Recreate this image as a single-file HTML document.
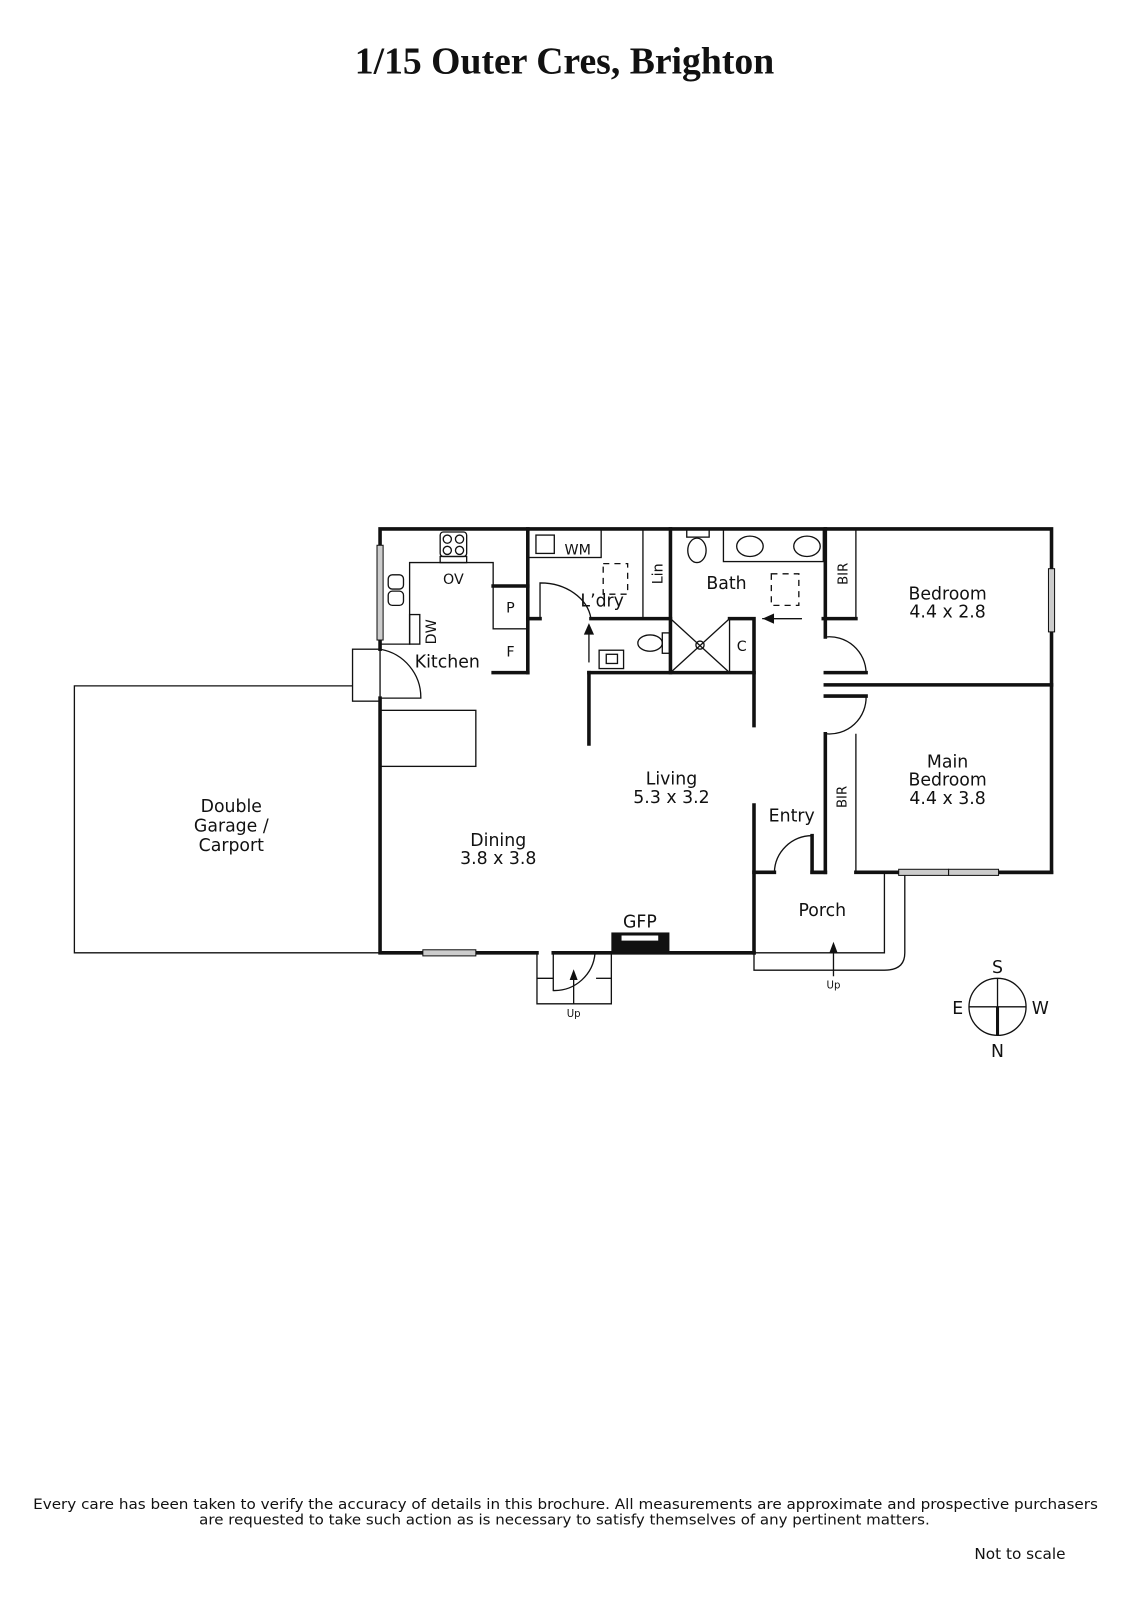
<!DOCTYPE html>
<html><head><meta charset="utf-8"><style>
html,body{margin:0;padding:0;background:#fff;}
svg{display:block;}
text{font-family:"DejaVu Sans","Liberation Sans",sans-serif;fill:#111;}
</style></head><body>
<svg width="1131" height="1600" viewBox="0 0 1110 1570" xmlns="http://www.w3.org/2000/svg">
<text x="554" y="72" text-anchor="middle" style="font-family:'Liberation Serif',serif;font-weight:bold;font-size:37px">1/15 Outer Cres, Brighton</text>

<g fill="none" stroke="#111" stroke-width="1.3">
<polyline points="346,673 73,673 73,935 373,935"/>
<polyline points="373,632 402,632 402,552 484,552 484,575"/>
<rect x="402" y="603" width="10" height="29"/>
<rect x="432" y="522" width="26" height="24" rx="3"/>
<circle cx="439" cy="529" r="4"/><circle cx="451" cy="529" r="4"/><circle cx="439" cy="540" r="4"/><circle cx="451" cy="540" r="4"/>
<rect x="432" y="546" width="26" height="6"/>
<rect x="381" y="564" width="15" height="14" rx="4"/><rect x="381" y="580" width="15" height="14" rx="4"/>
<rect x="484" y="575" width="34" height="42"/>
<rect x="346" y="637" width="27" height="51"/>
<path d="M373,637 A48,48 0 0 1 413,685 L373,685"/>
<rect x="373" y="697" width="94" height="55"/>
<rect x="518" y="519" width="72" height="28"/>
<rect x="526" y="525" width="18" height="18"/>
<rect x="592" y="553" width="24" height="30" stroke-dasharray="6,5"/>
<line x1="631" y1="519" x2="631" y2="607"/>
<path d="M530,607 L530,572 A50,40 0 0 1 580,607"/>
<ellipse cx="638" cy="631" rx="12" ry="8"/>
<rect x="650" y="621" width="7" height="20"/>
<rect x="588" y="638" width="24" height="18"/>
<rect x="595" y="642" width="11" height="9"/>
<line x1="658" y1="607" x2="716" y2="660"/><line x1="716" y1="607" x2="658" y2="660"/>
<circle cx="687" cy="633" r="4"/>
<rect x="716" y="607" width="24" height="53"/>
<rect x="710" y="519" width="98" height="32"/>
<ellipse cx="736" cy="536" rx="13" ry="10"/><ellipse cx="792" cy="536" rx="13" ry="10"/>
<ellipse cx="684" cy="540" rx="9" ry="12"/>
<rect x="674" y="519" width="22" height="8"/>
<rect x="757" y="563" width="27" height="31" stroke-dasharray="6,5"/>
<line x1="748" y1="607" x2="787" y2="607"/>
<line x1="840" y1="519" x2="840" y2="607"/>
<line x1="840" y1="720" x2="840" y2="856"/>
<path d="M810,625 A36,36 0 0 1 850,660"/>
<path d="M850,683 A36,36 0 0 1 810,720"/>
<path d="M760,856 A37,37 0 0 1 797,820"/>
<polyline points="740,935 868,935 868,856"/>
<path d="M740,935 L740,952 L868,952 Q888,952 888,935 L888,856"/>
<polyline points="527,935 527,985 600,985 600,935"/>
<line x1="527" y1="960" x2="543" y2="960"/><line x1="585" y1="960" x2="600" y2="960"/>
<path d="M543,935 L543,972 A40,40 0 0 0 584,935"/>
<ellipse cx="979" cy="988" rx="28" ry="28"/>
<line x1="951" y1="988" x2="1007" y2="988"/>
<line x1="979" y1="960" x2="979" y2="988"/>
</g>
<g stroke="#111" stroke-width="1.3" fill="#111">
<line x1="578" y1="650" x2="578" y2="620"/><polygon points="574,622 582,622 578,613"/>
<line x1="787" y1="607" x2="758" y2="607"/><polygon points="759,603 759,611 750,607"/>
<line x1="818" y1="958" x2="818" y2="933"/><polygon points="815,934 821,934 818,926"/>
<line x1="563" y1="985" x2="563" y2="960"/><polygon points="560,961 566,961 563,953"/>
<line x1="979" y1="988" x2="979" y2="1016" stroke-width="3"/>
</g>
<g fill="none" stroke="#111" stroke-width="3.5" stroke-linecap="square">
<polyline points="373,637 373,519 1032,519 1032,856 882,856"/>
<line x1="810" y1="856" x2="797" y2="856"/>
<polyline points="373,685 373,935 527,935"/>
<line x1="543" y1="935" x2="740" y2="935"/>
<line x1="518" y1="519" x2="518" y2="660"/>
<line x1="484" y1="660" x2="518" y2="660"/>
<line x1="484" y1="575" x2="518" y2="575"/>
<polyline points="518,607 530,607"/>
<line x1="580" y1="607" x2="658" y2="607"/>
<line x1="658" y1="519" x2="658" y2="660"/>
<line x1="578" y1="660" x2="740" y2="660"/>
<line x1="578" y1="660" x2="578" y2="730"/>
<polyline points="716,607 740,607 740,712"/>
<polyline points="808,607 840,607"/>
<line x1="810" y1="519" x2="810" y2="625"/>
<polyline points="810,660 850,660"/>
<line x1="810" y1="672" x2="1032" y2="672"/>
<polyline points="850,683 810,683"/>
<line x1="810" y1="720" x2="810" y2="856"/>
<line x1="840" y1="856" x2="1032" y2="856"/>
<line x1="740" y1="790" x2="740" y2="935"/>
<line x1="740" y1="856" x2="760" y2="856"/>
<polyline points="797,820 797,856 810,856"/>
</g>
<g fill="#ccc" stroke="#111" stroke-width="1">
<rect x="370" y="535" width="6" height="93"/>
<rect x="1029" y="558" width="6" height="62"/>
<rect x="882" y="853" width="49" height="6"/><rect x="931" y="853" width="49" height="6"/>
<rect x="415" y="932" width="52" height="6"/>
</g>
<rect x="600" y="915" width="57" height="20" fill="#111"/>
<rect x="610" y="918" width="36" height="5" fill="#fff"/>
<g font-size="17">
<text x="439" y="655" text-anchor="middle">Kitchen</text>
<text x="445" y="573" text-anchor="middle" font-size="14">OV</text>
<text x="501" y="601" text-anchor="middle" font-size="14">P</text>
<text x="501" y="644" text-anchor="middle" font-size="14">F</text>
<text x="567" y="544" text-anchor="middle" font-size="14">WM</text>
<text x="591" y="595" text-anchor="middle">L’dry</text>
<text x="713" y="578" text-anchor="middle">Bath</text>
<text x="728" y="639" text-anchor="middle" font-size="14">C</text>
<text x="930" y="588" text-anchor="middle">Bedroom</text>
<text x="930" y="606" text-anchor="middle">4.4 x 2.8</text>
<text x="930" y="753" text-anchor="middle">Main</text>
<text x="930" y="771" text-anchor="middle">Bedroom</text>
<text x="930" y="789" text-anchor="middle">4.4 x 3.8</text>
<text x="659" y="770" text-anchor="middle">Living</text>
<text x="659" y="788" text-anchor="middle">5.3 x 3.2</text>
<text x="777" y="806" text-anchor="middle">Entry</text>
<text x="489" y="830" text-anchor="middle">Dining</text>
<text x="489" y="848" text-anchor="middle">3.8 x 3.8</text>
<text x="227" y="797" text-anchor="middle">Double</text>
<text x="227" y="816" text-anchor="middle">Garage /</text>
<text x="227" y="835" text-anchor="middle">Carport</text>
<text x="807" y="899" text-anchor="middle">Porch</text>
<text x="628" y="910" text-anchor="middle">GFP</text>
<text x="979" y="955" text-anchor="middle">S</text>
<text x="940" y="995" text-anchor="middle">E</text>
<text x="1021" y="995" text-anchor="middle">W</text>
<text x="979" y="1037" text-anchor="middle">N</text>
<text transform="translate(428,620) rotate(-90)" text-anchor="middle" font-size="14">DW</text>
<text transform="translate(650,563) rotate(-90)" text-anchor="middle" font-size="14">Lin</text>
<text transform="translate(832,563) rotate(-90)" text-anchor="middle" font-size="13">BIR</text>
<text transform="translate(831,782) rotate(-90)" text-anchor="middle" font-size="13">BIR</text>
<text x="818" y="970" text-anchor="middle" font-size="10">Up</text>
<text x="563" y="998" text-anchor="middle" font-size="10">Up</text>
</g>
<g font-size="13.5">
<text x="555" y="1481" text-anchor="middle" textLength="1045" lengthAdjust="spacingAndGlyphs">Every care has been taken to verify the accuracy of details in this brochure.  All measurements are approximate and prospective purchasers</text>
<text x="554" y="1496" text-anchor="middle" textLength="717" lengthAdjust="spacingAndGlyphs">are requested to take such action as is necessary to satisfy themselves of any pertinent matters.</text>
<text x="1001" y="1530" text-anchor="middle" font-size="15">Not to scale</text>
</g>
</svg>
</body></html>
